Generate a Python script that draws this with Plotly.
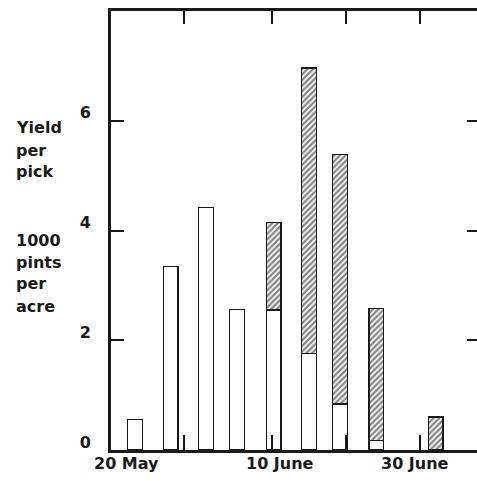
import plotly.graph_objects as go

# pick dates, in days after 20 May
pick_day = [2.5, 7.3, 12.1, 16.3, 21.2, 26.0, 30.2, 35.1, 43.1]
# yield per pick, 1000 pints per acre
plain = [0.55, 3.35, 4.42, 2.56, 2.55, 1.76, 0.84, 0.18, None]
hatched = [None, None, None, None, 1.6, 5.2, 4.54, 2.4, 0.6]

date_pos = [1.3, 22.1, 40.3]
date_text = ["20 May", "10 June", "30 June"]
tick_days = [9.1, 21, 31, 41]
y_ticks = [0, 2, 4, 6]

label_lines = ["Yield", "per", "pick", "1000", "pints", "per", "acre"]
label_px = [128, 150, 172, 240, 262, 284, 306]

FONT = "DejaVu Sans"
INK = "#1a1a1a"
xr = [-0.76, 48.7]
yr = [0, 8]

# body margin is removed in the page (post_script below), so the figure fills the window
W, H = 477, 481
L, T = 111, 11
B = H - 450
PW, PH = W - L, H - T - B

fig = go.Figure()
fig.add_trace(go.Bar(
    x=pick_day, y=plain, width=2.0,
    marker=dict(color="white", line=dict(color=INK, width=1.2)),
))
fig.add_trace(go.Bar(
    x=pick_day, y=hatched, width=2.0,
    marker=dict(color="white", line=dict(color=INK, width=1.2),
                pattern=dict(shape="/", fgcolor="#111", bgcolor="white",
                             size=4, solidity=0.6)),
))
# empty trace so the top and right-hand frame axes get drawn
fig.add_trace(go.Scatter(x=[None], y=[None], xaxis="x2", yaxis="y2",
                         hoverinfo="skip"))

for txt, py in zip(label_lines, label_px):
    fig.add_annotation(
        text=txt, xref="paper", yref="paper",
        x=(14 - L) / PW, y=(450 - py) / PH,
        xanchor="left", yanchor="middle", showarrow=False,
        font=dict(family=FONT, size=16, color=INK, weight="bold"),
    )

for txt, xv in zip(date_text, date_pos):
    fig.add_annotation(
        text=txt, xref="x", yref="paper", x=xv, y=(450 - 463) / PH,
        xanchor="center", yanchor="middle", showarrow=False,
        font=dict(family=FONT, size=16, color=INK, weight="bold"),
    )

tick_style = dict(ticks="inside", tickwidth=1.5, tickcolor=INK,
                  showgrid=False, zeroline=False)

fig.update_layout(
    width=W, height=H,
    margin=dict(l=L, r=0, t=T, b=B),
    paper_bgcolor="white", plot_bgcolor="white",
    barmode="stack", showlegend=False,
    font=dict(family=FONT, size=16, color=INK, weight="bold"),
    xaxis=dict(range=xr, tickvals=tick_days, showticklabels=False,
               ticklen=15, showline=True, linewidth=2.5, linecolor=INK,
               **tick_style),
    xaxis2=dict(range=xr, overlaying="x", side="top", tickvals=tick_days,
                showticklabels=False, ticklen=13, showline=True,
                linewidth=2.5, linecolor=INK, **tick_style),
    yaxis=dict(range=yr, tickvals=y_ticks, ticklen=13, showline=True,
               linewidth=3, linecolor=INK, ticklabelstandoff=14,
               ticklabelshift=-8, **tick_style),
    yaxis2=dict(range=yr, overlaying="y", side="right", tickvals=[2, 4, 6],
                ticklen=10, showticklabels=False, showline=False,
                **tick_style),
)

fig.write_html(
    "out.html",
    config={"displayModeBar": False},
    post_script="document.body.style.margin='0';"
                "document.body.style.overflow='hidden';",
)
